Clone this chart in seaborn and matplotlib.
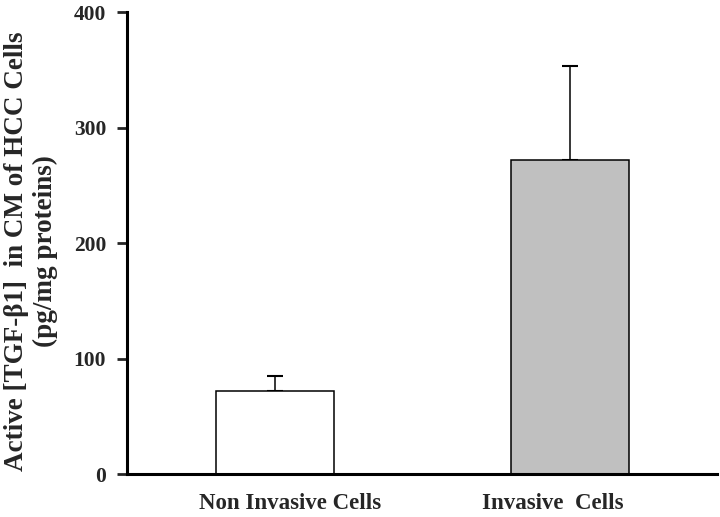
import matplotlib
matplotlib.use('Agg')
import matplotlib.pyplot as plt
import matplotlib.transforms as mtransforms
import seaborn as sns

categories = ['Non Invasive Cells', 'Invasive  Cells']
values = [72, 272]
err_upper = [13, 81]
bar_colors = ['white', '#c0c0c0']
yticks = [0, 100, 200, 300, 400]

sns.set_style('white')
plt.rcParams['font.family'] = ['Liberation Serif', 'DejaVu Serif']
plt.rcParams['font.weight'] = 'bold'

fig = plt.figure(figsize=(7.2, 5.17), dpi=100)
ax = fig.add_axes([127 / 720, 1 - 474 / 517, 590 / 720, 462 / 517])

sns.barplot(x=categories, y=values, hue=categories, palette=bar_colors, legend=False,
            edgecolor='black', linewidth=1.1, width=0.4, ax=ax, zorder=2)
ax.errorbar(range(len(values)), values, yerr=[[0] * len(values), err_upper], fmt='none',
            ecolor='black', elinewidth=1.1, capsize=5.5, capthick=1.5, zorder=1)

ax.set_xlim(-0.5, 1.5)
ax.set_ylim(0, 400)
ax.set_yticks(yticks)
ax.set_xlabel('')
ax.set_ylabel('')
sns.despine(ax=ax)
for side in ['left', 'bottom']:
    ax.spines[side].set_linewidth(2.2)
    ax.spines[side].set_color('black')
ax.tick_params(axis='y', direction='out', length=7, width=2, pad=8, labelsize=15.5, left=True)
ax.tick_params(axis='x', length=0, pad=14, labelsize=16.5)
for lab in ax.get_xticklabels() + ax.get_yticklabels():
    lab.set_fontweight('bold')

# the category labels sit a little off the bar centres in the original
for lab, dx in zip(ax.get_xticklabels(), [11, -12]):
    lab.set_transform(lab.get_transform() + mtransforms.ScaledTranslation(dx / 72, 0, fig.dpi_scale_trans))

fig.text(31 / 720, 1 - 251 / 517, 'Active [TGF-β1]  in CM of HCC Cells\n(pg/mg proteins)',
         rotation=90, ha='center', va='center', multialignment='center',
         fontsize=19.5, fontweight='bold', linespacing=1.15)

fig.savefig('out.png', dpi=100)
